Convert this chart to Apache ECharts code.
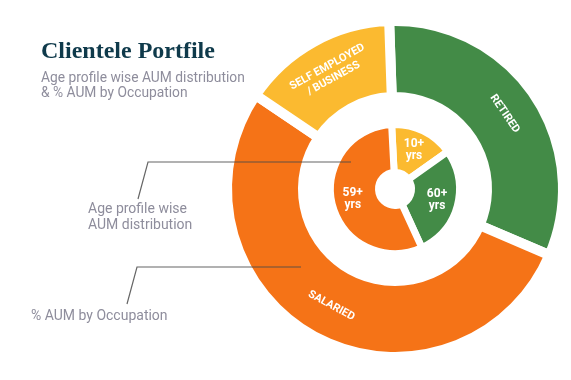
<!DOCTYPE html>
<html>
<head>
<meta charset="utf-8">
<script src="https://cdn.jsdelivr.net/npm/echarts@6/dist/echarts.min.js"></script>
<style>
html,body{margin:0;padding:0;background:#fff;}
#chart{width:571px;height:380px;}
</style>
</head>
<body>
<div id="chart"></div>
<script>
const occupationCategories = ['RETIRED', 'SALARIED', 'SELF EMPLOYED\n/ BUSINESS'];
const occupationValues = [32, 53, 15];
const ageCategories = ['10+\nyrs', '60+\nyrs', '59+\nyrs'];
const ageValues = [16, 28, 56];

const occupationColors = ['#438B47', '#F57317', '#FBBA30'];
const ageColors = ['#FBBA30', '#438B47', '#F57317'];

const chart = echarts.init(document.getElementById('chart'), null, {renderer: 'canvas'});

const option = {
  backgroundColor: '#ffffff',
  animation: false,
  title: {
    text: 'Clientele Portfile',
    left: 36,
    top: 35,
    textStyle: {
      fontFamily: 'Liberation Serif',
      fontSize: 24,
      fontWeight: 'bold',
      color: '#0F3A4B'
    }
  },
  graphic: [
    {
      type: 'text', left: 41, top: 71, z: 10,
      style: {
        text: 'Age profile wise AUM distribution\n& % AUM by Occupation',
        font: '13.8px Roboto', fill: '#8E8D9C', lineHeight: 15
      }
    },
    {
      type: 'text', left: 88, top: 201, z: 10,
      style: {
        text: 'Age profile wise\nAUM distribution',
        font: '14px Roboto', fill: '#8E8D9C', lineHeight: 16
      }
    },
    {
      type: 'text', left: 31, top: 308, z: 10,
      style: {
        text: '% AUM by Occupation',
        font: '14px Roboto', fill: '#8E8D9C', lineHeight: 16
      }
    },
    {
      type: 'polyline', z: 20,
      shape: {points: [[138, 199], [148, 162], [351, 162]]},
      style: {stroke: '#4A4A4A', lineWidth: 1.2, fill: null, opacity: 0.85}
    },
    {
      type: 'polyline', z: 20,
      shape: {points: [[127, 304], [137, 267], [301, 267]]},
      style: {stroke: '#4A4A4A', lineWidth: 1.2, fill: null, opacity: 0.85}
    }
  ],
  series: [
    {
      name: 'Occupation',
      type: 'pie',
      center: [395, 189],
      radius: [92, 168],
      startAngle: 92,
      clockwise: true,
      avoidLabelOverlap: false,
      silent: true,
      itemStyle: {borderColor: '#ffffff', borderWidth: 10},
      label: {
        show: true,
        position: 'inside',
        rotate: 'tangential',
        color: '#ffffff',
        fontFamily: 'Roboto',
        fontWeight: 'bold',
        fontSize: 11,
        lineHeight: 13,
        formatter: p => p.name
      },
      labelLine: {show: false},
      data: occupationCategories.map((n, i) => ({
        name: n, value: occupationValues[i], itemStyle: {color: occupationColors[i]}
      }))
    },
    {
      name: 'Age',
      type: 'pie',
      center: [395, 189],
      radius: [16.5, 64.5],
      startAngle: 93,
      clockwise: true,
      avoidLabelOverlap: false,
      silent: true,
      itemStyle: {borderColor: '#ffffff', borderWidth: 7},
      label: {
        show: true,
        position: 'inside',
        color: '#ffffff',
        fontFamily: 'Roboto',
        fontWeight: 'bold',
        fontSize: 12,
        lineHeight: 12,
        formatter: p => p.name
      },
      labelLine: {show: false},
      data: ageCategories.map((n, i) => ({
        name: n, value: ageValues[i], itemStyle: {color: ageColors[i]}
      }))
    }
  ]
};
chart.setOption(option);
</script>
</body>
</html>
